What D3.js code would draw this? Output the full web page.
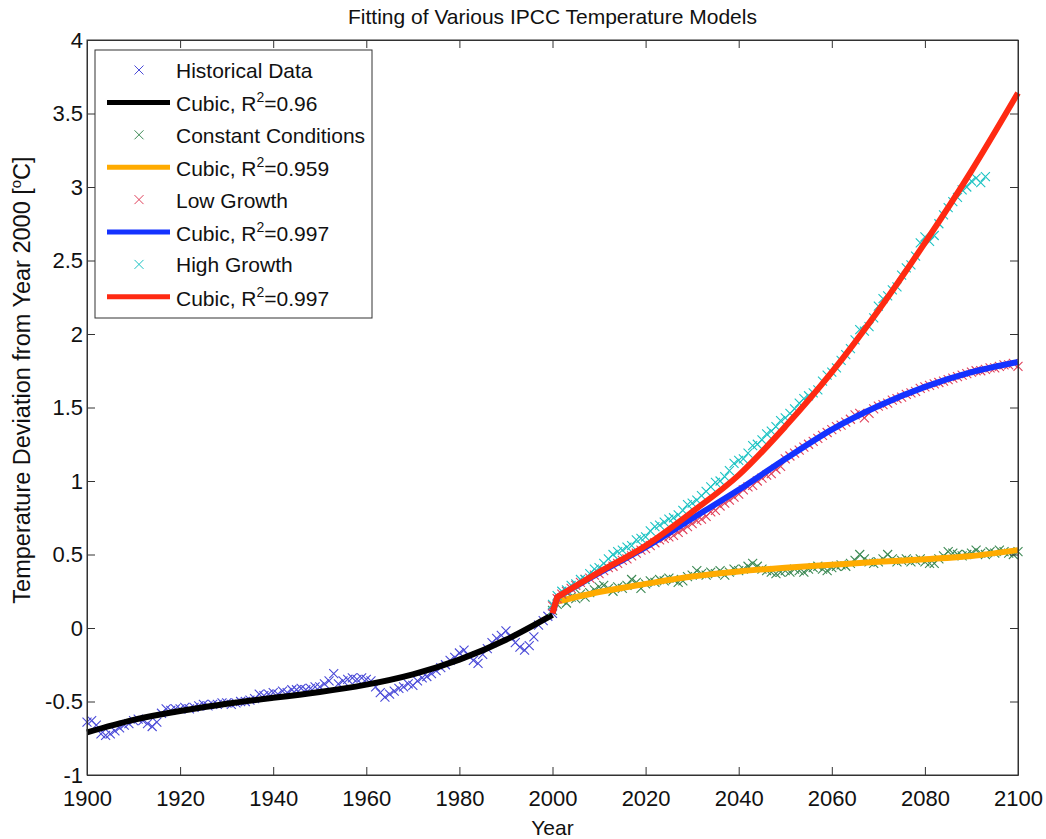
<!DOCTYPE html>
<html>
<head>
<meta charset="utf-8">
<script src="https://cdn.jsdelivr.net/npm/d3@7"></script>
<style>
  html, body { margin: 0; padding: 0; background: #fff; }
  svg { display: block; font-family: "Liberation Sans", Arial, Helvetica, sans-serif; }
</style>
</head>
<body>
<svg id="chart" width="1046" height="839"></svg>
<script>
// ---- Data -------------------------------------------------------------
const xTicks = [1900, 1920, 1940, 1960, 1980, 2000, 2020, 2040, 2060, 2080, 2100];
const yTicks = [-1, -0.5, 0, 0.5, 1, 1.5, 2, 2.5, 3, 3.5, 4];

// Observed annual anomalies, 1900-2000
const histStart = 1900;
const histValues = [
  -0.64, -0.63, -0.66, -0.72, -0.73, -0.72, -0.70, -0.68, -0.66, -0.65,
  -0.63, -0.62, -0.63, -0.65, -0.67, -0.64, -0.58, -0.55, -0.56, -0.55,
  -0.55, -0.54, -0.55, -0.54, -0.53, -0.52, -0.53, -0.52, -0.52, -0.51,
  -0.51, -0.52, -0.51, -0.50, -0.50, -0.49, -0.48, -0.45, -0.46, -0.45,
  -0.44, -0.45, -0.43, -0.44, -0.42, -0.42, -0.41, -0.42, -0.41, -0.40,
  -0.40, -0.38, -0.36, -0.31, -0.38, -0.36, -0.35, -0.34, -0.35, -0.34,
  -0.35, -0.36, -0.40, -0.44, -0.47, -0.45, -0.43, -0.41, -0.40, -0.38,
  -0.39, -0.36, -0.34, -0.33, -0.31, -0.29, -0.27, -0.25, -0.22, -0.20,
  -0.17, -0.15, -0.19, -0.22, -0.24, -0.18, -0.14, -0.10, -0.07, -0.05,
  -0.02, -0.06, -0.10, -0.13, -0.15, -0.12, -0.06, 0.02, 0.05, 0.08,
  0.10
];

// Scenario projections, annual from 2000
const scenStart = 2000;
const constantValues = [
  0.12, 0.16, 0.19, 0.17, 0.21, 0.20, 0.23, 0.21, 0.24, 0.26,
  0.28, 0.29, 0.27, 0.25, 0.28, 0.27, 0.29, 0.33, 0.31, 0.27,
  0.30, 0.32, 0.31, 0.33, 0.32, 0.34, 0.33, 0.31, 0.32, 0.35,
  0.36, 0.39, 0.37, 0.36, 0.38, 0.37, 0.39, 0.36, 0.38, 0.40,
  0.39, 0.40, 0.42, 0.44, 0.42, 0.40, 0.39, 0.38, 0.37, 0.38,
  0.39, 0.38, 0.40, 0.39, 0.38, 0.40, 0.41, 0.42, 0.40, 0.39,
  0.41, 0.42, 0.43, 0.42, 0.44, 0.46, 0.50, 0.47, 0.45, 0.44,
  0.45, 0.47, 0.50, 0.47, 0.45, 0.46, 0.47, 0.45, 0.46, 0.47,
  0.45, 0.44, 0.44, 0.47, 0.49, 0.52, 0.51, 0.50, 0.49, 0.50,
  0.51, 0.53, 0.51, 0.50, 0.52, 0.51, 0.53, 0.52, 0.51, 0.50,
  0.52
];
const lowValues = [
  0.15, 0.20, 0.23, 0.25, 0.27, 0.29, 0.31, 0.33, 0.34, 0.36,
  0.37, 0.39, 0.41, 0.42, 0.44, 0.46, 0.47, 0.49, 0.51, 0.53,
  0.54, 0.56, 0.58, 0.60, 0.61, 0.62, 0.63, 0.65, 0.67, 0.69,
  0.71, 0.73, 0.74, 0.76, 0.79, 0.80, 0.83, 0.85, 0.87, 0.89,
  0.91, 0.94, 0.96, 0.97, 1.00, 1.02, 1.04, 1.05, 1.08, 1.10,
  1.15, 1.17, 1.19, 1.21, 1.23, 1.25, 1.27, 1.29, 1.31, 1.33,
  1.35, 1.37, 1.38, 1.40, 1.42, 1.45, 1.46, 1.43, 1.46, 1.49,
  1.51, 1.52, 1.53, 1.55, 1.56, 1.57, 1.59, 1.60, 1.61, 1.63,
  1.64, 1.65, 1.66, 1.67, 1.68, 1.69, 1.70, 1.71, 1.72, 1.73,
  1.74, 1.75, 1.75, 1.76, 1.77, 1.77, 1.78, 1.79, 1.79, 1.80,
  1.78
];
const highValues = [
  0.16, 0.22, 0.25, 0.26, 0.29, 0.30, 0.33, 0.33, 0.37, 0.40,
  0.41, 0.44, 0.47, 0.50, 0.52, 0.53, 0.55, 0.56, 0.60, 0.61,
  0.62, 0.66, 0.69, 0.70, 0.72, 0.74, 0.75, 0.77, 0.80, 0.84,
  0.85, 0.87, 0.90, 0.93, 0.96, 0.99, 1.00, 1.03, 1.07, 1.12,
  1.14, 1.15, 1.19, 1.24, 1.25, 1.28, 1.32, 1.34, 1.37, 1.41,
  1.43, 1.46, 1.49, 1.53, 1.56, 1.58, 1.60, 1.62, 1.68, 1.72,
  1.74, 1.77, 1.82, 1.86, 1.90, 1.96, 2.03, 2.02, 2.05, 2.11,
  2.19, 2.24, 2.26, 2.30, 2.32, 2.40, 2.45, 2.47, 2.53, 2.62,
  2.66, 2.63, 2.67, 2.75, 2.81, 2.86, 2.90, 2.93, 2.98, 3.00,
  3.04, 3.06, 3.03, 3.07
];

// Cubic fit curves, sampled. Scenario fits open with a short join from 2000.
const histFitYears = [1900, 1910, 1920, 1930, 1940, 1950, 1960, 1970, 1980, 1990, 2000];
const histFitValues = [-0.71, -0.625, -0.565, -0.515, -0.475, -0.435, -0.385, -0.315, -0.215, -0.08, 0.09];
const constFitYears = [2001, 2010, 2020, 2030, 2040, 2050, 2060, 2070, 2080, 2090, 2100];
const constFitValues = [0.18, 0.245, 0.30, 0.35, 0.385, 0.41, 0.43, 0.45, 0.468, 0.49, 0.53];
const lowFitYears = [2000, 2001, 2010, 2020, 2030, 2040, 2050, 2060, 2070, 2080, 2090, 2100];
const lowFitValues = [0.10, 0.21, 0.375, 0.55, 0.745, 0.94, 1.15, 1.35, 1.51, 1.64, 1.74, 1.81];
const highFitYears = [2000, 2001, 2010, 2020, 2030, 2040, 2050, 2060, 2070, 2080, 2090, 2100];
const highFitValues = [0.10, 0.21, 0.38, 0.56, 0.79, 1.04, 1.37, 1.74, 2.16, 2.62, 3.11, 3.64];

const r2Labels = ["0.96", "0.959", "0.997", "0.997"];

// ---- Layout -----------------------------------------------------------
const svg = d3.select("#chart");
const plotL = 87, plotR = 1018, plotT = 40, plotB = 775;
const x = d3.scaleLinear().domain([1900, 2100]).range([plotL, plotR]);
const y = d3.scaleLinear().domain([-1, 4]).range([plotB, plotT]);

const colors = {
  hist: "#4a4ad8", histFit: "#000000",
  constant: "#3d8a55", constantFit: "#ffab00",
  low: "#e0405a", lowFit: "#1432ff",
  high: "#1cc3c3", highFit: "#ff2a12"
};

svg.append("rect").attr("width", 1046).attr("height", 839).attr("fill", "#fff");

const toPoints = (start, vals) => vals.map((v, i) => ({ year: start + i, v }));
const zip = (yrs, vals) => yrs.map((yr, i) => ({ year: yr, v: vals[i] }));

const smoothEven = d3.line().x(d => x(d.year)).y(d => y(d.v)).curve(d3.curveNatural);
const smoothMono = d3.line().x(d => x(d.year)).y(d => y(d.v)).curve(d3.curveMonotoneX);
const cross = "M-4.5,-4.5L4.5,4.5M-4.5,4.5L4.5,-4.5";

const plot = svg.append("g");

function drawMarkers(data, color) {
  plot.append("g").selectAll("path").data(data).join("path")
    .attr("d", cross)
    .attr("transform", d => `translate(${x(d.year)},${y(d.v)})`)
    .attr("fill", "none").attr("stroke", color).attr("stroke-width", 1.1);
}
// join: number of leading points drawn as straight segments before the smooth part
function drawFit(data, color, gen, join) {
  let d;
  if (join) {
    const head = data.slice(0, join);
    const tail = data.slice(join - 1);
    d = "M" + head.map(p => `${x(p.year)},${y(p.v)}`).join("L") + "L" + gen(tail).slice(1);
  } else {
    d = gen(data);
  }
  plot.append("path").attr("d", d)
    .attr("fill", "none").attr("stroke", color)
    .attr("stroke-width", 6).attr("stroke-linejoin", "round").attr("stroke-linecap", "butt");
}

drawMarkers(toPoints(histStart, histValues), colors.hist);
drawFit(zip(histFitYears, histFitValues), colors.histFit, smoothEven, 0);
drawMarkers(toPoints(scenStart, constantValues), colors.constant);
drawFit(zip(constFitYears, constFitValues), colors.constantFit, smoothMono, 0);
drawMarkers(toPoints(scenStart, lowValues), colors.low);
drawFit(zip(lowFitYears, lowFitValues), colors.lowFit, smoothMono, 2);
drawMarkers(toPoints(scenStart, highValues), colors.high);
drawFit(zip(highFitYears, highFitValues), colors.highFit, smoothMono, 2);

// ---- Axes (ticks pointing inward on all four sides) --------------------
const tickFont = 22;
const fmt = d => String(d);

const axB = svg.append("g").attr("transform", `translate(0,${plotB})`)
  .call(d3.axisBottom(x).tickValues(xTicks).tickFormat(fmt).tickSizeInner(-8).tickSizeOuter(0).tickPadding(15));
const axT = svg.append("g").attr("transform", `translate(0,${plotT})`)
  .call(d3.axisTop(x).tickValues(xTicks).tickFormat("").tickSizeInner(-8).tickSizeOuter(0));
const axL = svg.append("g").attr("transform", `translate(${plotL},0)`)
  .call(d3.axisLeft(y).tickValues(yTicks).tickFormat(fmt).tickSizeInner(-8).tickSizeOuter(0).tickPadding(4));
const axR = svg.append("g").attr("transform", `translate(${plotR},0)`)
  .call(d3.axisRight(y).tickValues(yTicks).tickFormat("").tickSizeInner(-8).tickSizeOuter(0));

[axB, axT, axL, axR].forEach(a => {
  a.select(".domain").attr("stroke", "#333").attr("stroke-width", 1);
  a.selectAll(".tick line").attr("stroke", "#333").attr("stroke-width", 1);
  a.selectAll("text").attr("font-size", tickFont).attr("fill", "#111")
    .attr("font-family", "'Liberation Sans', Arial, sans-serif");
});

// Frame
svg.append("rect").attr("x", plotL).attr("y", plotT)
  .attr("width", plotR - plotL).attr("height", plotB - plotT)
  .attr("fill", "none").attr("stroke", "#333").attr("stroke-width", 1);

// ---- Titles -----------------------------------------------------------
svg.append("text").attr("x", (plotL + plotR) / 2).attr("y", 24)
  .attr("text-anchor", "middle").attr("font-size", 21).attr("fill", "#111")
  .text("Fitting of Various IPCC Temperature Models");

svg.append("text").attr("x", (plotL + plotR) / 2).attr("y", 835)
  .attr("text-anchor", "middle").attr("font-size", 21).attr("fill", "#111")
  .text("Year");

const yl = svg.append("text")
  .attr("transform", "translate(30,380) rotate(-90)")
  .attr("text-anchor", "middle").attr("font-size", 23.5).attr("fill", "#111");
yl.append("tspan").text("Temperature Deviation from Year 2000 [");
yl.append("tspan").attr("font-size", 15).attr("dy", -9).text("o");
yl.append("tspan").attr("dy", 9).text("C]");

// ---- Legend -----------------------------------------------------------
const legendEntries = [
  { type: "marker", color: colors.hist, label: "Historical Data" },
  { type: "line", color: colors.histFit, r2: r2Labels[0] },
  { type: "marker", color: colors.constant, label: "Constant Conditions" },
  { type: "line", color: colors.constantFit, r2: r2Labels[1] },
  { type: "marker", color: colors.low, label: "Low Growth" },
  { type: "line", color: colors.lowFit, r2: r2Labels[2] },
  { type: "marker", color: colors.high, label: "High Growth" },
  { type: "line", color: colors.highFit, r2: r2Labels[3] }
];

const lg = svg.append("g");
lg.append("rect").attr("x", 95).attr("y", 50).attr("width", 277).attr("height", 268)
  .attr("fill", "#fff").attr("stroke", "#333").attr("stroke-width", 1);

legendEntries.forEach((e, i) => {
  const cy = 70 + i * 32.4;
  const g = lg.append("g").attr("transform", `translate(0,${cy})`);
  if (e.type === "marker") {
    g.append("path").attr("d", cross).attr("transform", "translate(139,0)")
      .attr("fill", "none").attr("stroke", e.color).attr("stroke-width", 1);
    g.append("text").attr("x", 176).attr("y", 8).attr("font-size", 21).attr("fill", "#111").text(e.label);
  } else {
    g.append("line").attr("x1", 107).attr("x2", 170).attr("y1", 0).attr("y2", 0)
      .attr("stroke", e.color).attr("stroke-width", 5);
    const t = g.append("text").attr("x", 176).attr("y", 9).attr("font-size", 21).attr("fill", "#111");
    t.append("tspan").text("Cubic, R");
    t.append("tspan").attr("font-size", 14).attr("dy", -9).text("2");
    t.append("tspan").attr("dy", 9).text("=" + e.r2);
  }
});
</script>
</body>
</html>
